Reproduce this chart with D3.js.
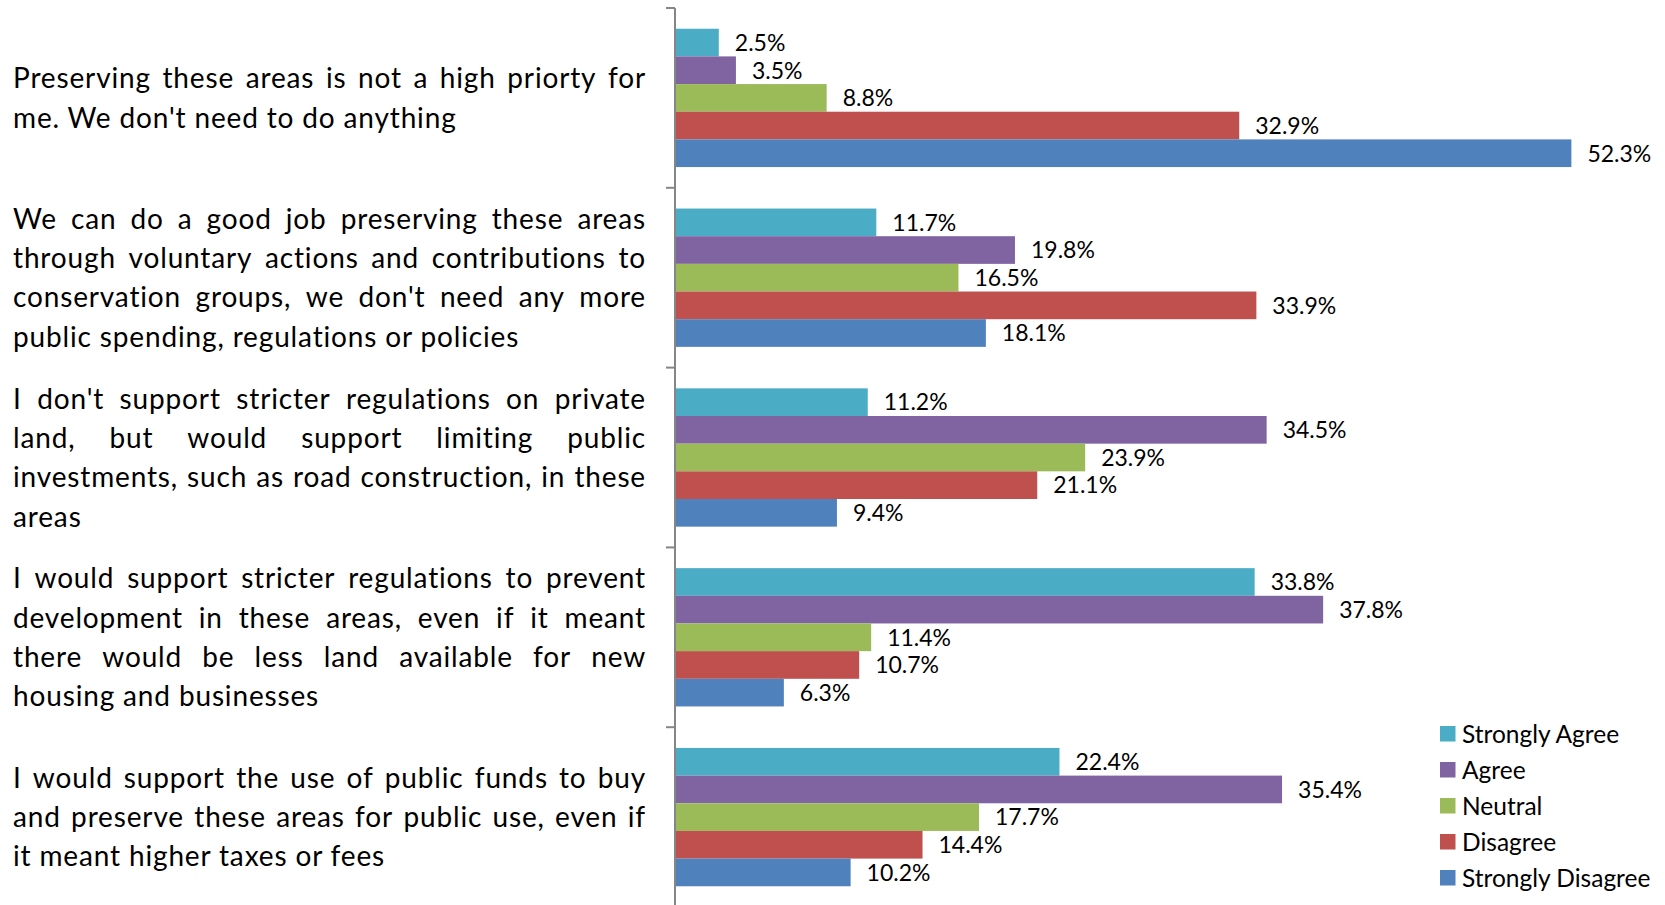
<!DOCTYPE html>
<html>
<head>
<meta charset="utf-8">
<script src="https://cdn.jsdelivr.net/npm/d3@7"></script>
<style>
  html, body { margin: 0; padding: 0; background: #fff; }
  svg { display: block; }
  text { font-family: Lato, "Open Sans", "Liberation Sans", sans-serif; fill: #000; }
</style>
</head>
<body>
<svg id="chart" width="1665" height="905"></svg>
<script>
// ---------- data ----------
const categories = ["Q1", "Q2", "Q3", "Q4", "Q5"];
const categoryLines = [
  ["Preserving these areas is not a high priorty for", "me. We don't need to do anything"],
  ["We can do a good job preserving these areas", "through voluntary actions and contributions to", "conservation groups, we don't need any more", "public spending, regulations or policies"],
  ["I don't support stricter regulations on private", "land, but would support limiting public", "investments, such as road construction, in these", "areas"],
  ["I would support stricter regulations to prevent", "development in these areas, even if it meant", "there would be less land available for new", "housing and businesses"],
  ["I would support the use of public funds to buy", "and preserve these areas for public use, even if", "it meant higher taxes or fees"]
];
const seriesNames = ["Strongly Agree", "Agree", "Neutral", "Disagree", "Strongly Disagree"];
const stronglyAgree    = [2.5, 11.7, 11.2, 33.8, 22.4];
const agree            = [3.5, 19.8, 34.5, 37.8, 35.4];
const neutral          = [8.8, 16.5, 23.9, 11.4, 17.7];
const disagree         = [32.9, 33.9, 21.1, 10.7, 14.4];
const stronglyDisagree = [52.3, 18.1, 9.4, 6.3, 10.2];
const seriesValues = [stronglyAgree, agree, neutral, disagree, stronglyDisagree];
const seriesColors = ["#4BACC6", "#8064A2", "#9BBB59", "#C0504D", "#4F81BD"];

// ---------- layout ----------
const svg = d3.select("#chart");
const axisX = 676;
const plotTop = 8, plotBottom = 907;
const x = d3.scaleLinear().domain([0, 60]).range([axisX, axisX + 60 * 17.12]);
const y0 = d3.scaleBand().domain(categories).range([plotTop, plotBottom]).padding(0);
const y1 = d3.scaleBand().domain(seriesNames).range([0, y0.bandwidth()]).paddingInner(0).paddingOuter(0.75);
const color = d3.scaleOrdinal().domain(seriesNames).range(seriesColors);

const rows = [];
categories.forEach((c, i) => {
  seriesNames.forEach((s, j) => rows.push({ cat: c, series: s, value: seriesValues[j][i] }));
});

// bars
svg.append("g").selectAll("rect").data(rows).join("rect")
  .attr("x", x(0))
  .attr("y", d => y0(d.cat) + y1(d.series))
  .attr("width", d => x(d.value) - x(0))
  .attr("height", y1.bandwidth())
  .attr("fill", d => color(d.series));

// value labels
svg.append("g").selectAll("text").data(rows).join("text")
  .attr("x", d => x(d.value) + 16)
  .attr("y", d => y0(d.cat) + y1(d.series) + y1.bandwidth() / 2)
  .attr("dy", "0.36em")
  .style("font-size", "23px")
  .text(d => d.value.toFixed(1) + "%");

// axis
const axisG = svg.append("g").attr("transform", `translate(${axisX - 1},0)`);
axisG.append("line")
  .attr("x1", 0).attr("x2", 0).attr("y1", plotTop).attr("y2", plotBottom)
  .attr("stroke", "#868686").attr("stroke-width", 2);
const boundaries = categories.map(c => y0(c)).concat([plotBottom]);
axisG.selectAll("line.tick").data(boundaries).join("line")
  .attr("class", "tick")
  .attr("x1", -9).attr("x2", 0)
  .attr("y1", d => d).attr("y2", d => d)
  .attr("stroke", "#868686").attr("stroke-width", 2);

// category labels (justified)
const labelLeft = 13, labelRight = 646, lineGap = 39.3, catFont = 28, catSpacing = 0.85;
categoryLines.forEach((lines, i) => {
  const cy = y0(categories[i]) + y0.bandwidth() / 2;
  const g = svg.append("g");
  lines.forEach((line, k) => {
    const ly = cy + (k - (lines.length - 1) / 2) * lineGap;
    const isLast = k === lines.length - 1;
    if (isLast) {
      g.append("text").attr("x", labelLeft).attr("y", ly).attr("dy", "0.36em")
        .style("font-size", catFont + "px").style("letter-spacing", catSpacing + "px").text(line);
    } else {
      const words = line.split(" ");
      const nodes = words.map(w => g.append("text").attr("y", ly).attr("dy", "0.36em")
        .style("font-size", catFont + "px").style("letter-spacing", catSpacing + "px").text(w));
      const widths = nodes.map(n => n.node().getComputedTextLength());
      const total = d3.sum(widths);
      const gap = (labelRight - labelLeft - total) / (words.length - 1);
      let cx = labelLeft;
      nodes.forEach((n, idx) => { n.attr("x", cx); cx += widths[idx] + gap; });
    }
  });
});

// legend
const legend = svg.append("g").attr("transform", "translate(1440,734)");
const legendY = d3.scalePoint().domain(seriesNames).range([0, 144]);
const li = legend.selectAll("g").data(seriesNames).join("g")
  .attr("transform", d => `translate(0,${legendY(d)})`);
li.append("rect").attr("x", 0).attr("y", -8).attr("width", 15.5).attr("height", 15.5)
  .attr("fill", d => color(d));
li.append("text").attr("x", 22).attr("y", 0).attr("dy", "0.36em")
  .style("font-size", "24.5px").text(d => d);
</script>
</body>
</html>
